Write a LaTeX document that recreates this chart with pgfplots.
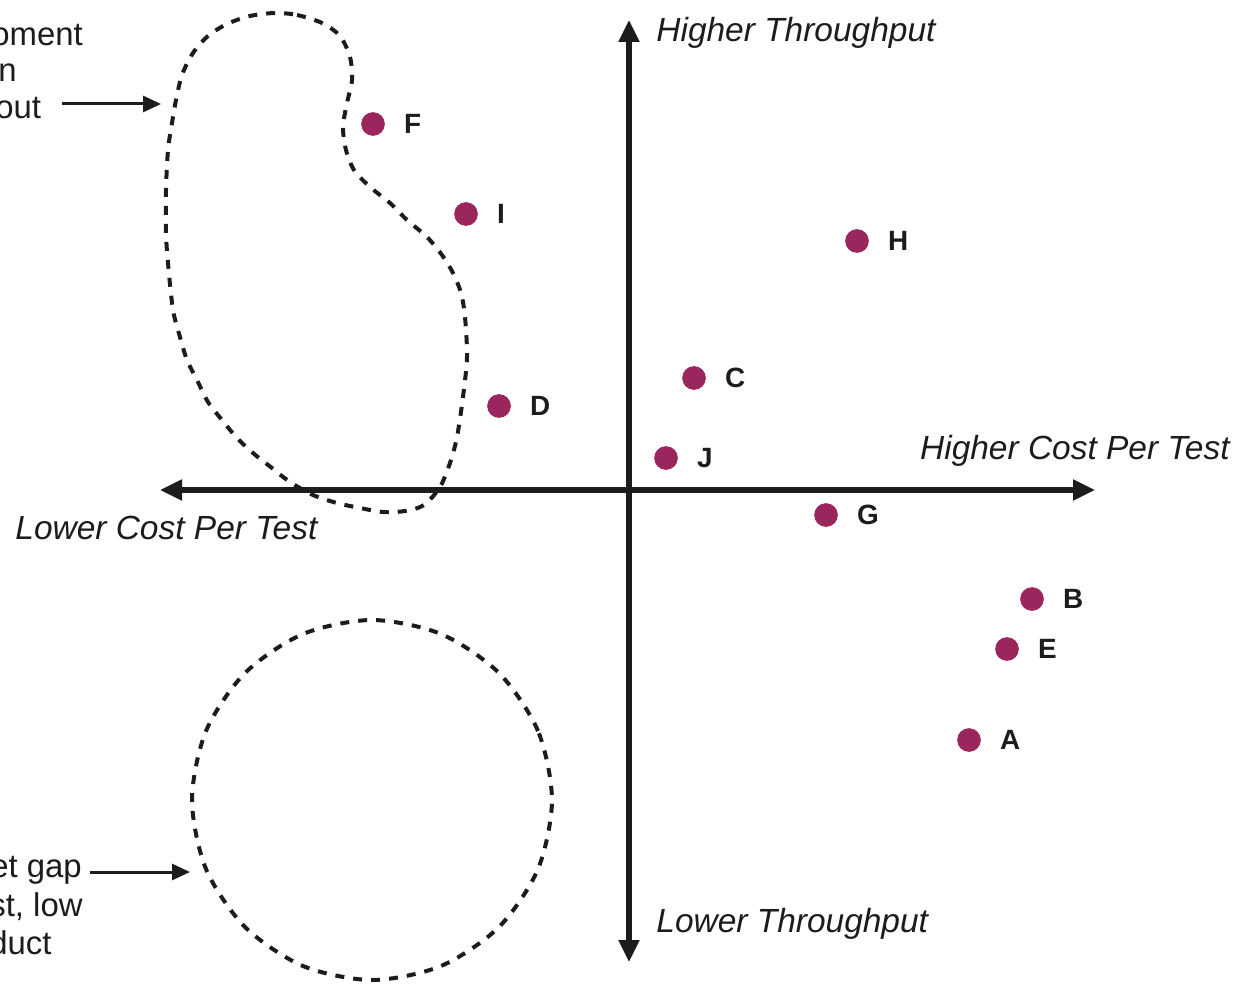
\documentclass[border=0pt]{standalone}
\usepackage{pgfplots}
\pgfplotsset{compat=1.18}
\usetikzlibrary{arrows.meta}
\usepackage{fontspec}
\setmainfont{Liberation Sans}
\definecolor{dot}{RGB}{155,38,94}
\definecolor{ink}{RGB}{28,28,28}
\begin{document}
\begin{tikzpicture}
\useasboundingbox (0,0) rectangle (622.5bp,493bp);
\clip (0,0) rectangle (622.5bp,493bp);
\begin{axis}[
  at={(0,0)}, anchor=south west,
  width=622.5bp, height=493bp, scale only axis,
  xmin=0, xmax=1245, ymin=0, ymax=986, y dir=reverse,
  hide axis, clip=false,
]
% dashed regions
\addplot[ink, line width=2bp, dash pattern=on 4.5bp off 4.5bp, smooth cycle, tension=0.5] coordinates {
(275,13) (297,15) (322,23) (340,36) (350,57) (352,80) (347,103) (343,127) (346,150) (354,170) (370,187) (390,203) (407,220) (427,237) (442,255) (453,273) (461,293) (465,317) (467,357) (463,397) (457,437) (450,463) (440,487) (424,505) (405,511) (383,512) (360,508) (337,503) (313,495) (290,482) (272,468) (253,453) (237,438) (222,420) (208,402) (197,380) (187,360) (180,337) (173,310) (168,263) (166,233) (166,190) (168,150) (172,123) (176,100) (182,75) (193,53) (208,36) (227,24) (250,16)
};
\addplot[ink, line width=2bp, dash pattern=on 4.5bp off 4.5bp, smooth cycle] coordinates {
(552,800) (538,731) (499,673) (441,634) (372,620) (303,634) (245,673) (206,731) (192,800) (206,869) (245,927) (303,966) (372,980) (441,966) (499,927) (538,869)
};
% axes arrows
\addplot[ink, line width=2.6bp, {Triangle[length=11bp,width=10bp]}-{Triangle[length=11bp,width=10bp]}] coordinates {(629,20) (629,962)};
\addplot[ink, line width=2.6bp, {Triangle[length=11bp,width=10bp]}-{Triangle[length=11bp,width=10bp]}] coordinates {(160,490) (1095,490)};
% callout arrows
\addplot[ink, line width=1.5bp, -{Triangle[length=9bp,width=8bp]}] coordinates {(62,104) (161,104)};
\addplot[ink, line width=1.5bp, -{Triangle[length=9bp,width=8bp]}] coordinates {(90,872) (190,872)};
% points
\addplot[only marks, mark=*, mark size=5.7bp, mark options={draw=dot, fill=dot},
  point meta=explicit symbolic, nodes near coords,
  nodes near coords style={anchor=west, xshift=12bp, yshift=0bp, text=ink, font=\fontsize{14}{14}\selectfont\bfseries}]
coordinates {
(373,124) [F]
(466,214) [I]
(857,241) [H]
(694,378) [C]
(499,406) [D]
(666,458) [J]
(826,515) [G]
(1032,599) [B]
(1007,649) [E]
(969,740) [A]
};
% axis texts
\node[anchor=west, inner sep=0, text=ink, font=\itshape\fontsize{16.8}{18}\selectfont] at (axis cs:656,33) {Higher Throughput};
\node[anchor=west, inner sep=0, text=ink, font=\itshape\fontsize{16.8}{18}\selectfont] at (axis cs:656,924) {Lower Throughput};
\node[anchor=east, inner sep=0, text=ink, font=\itshape\fontsize{16.8}{18}\selectfont] at (axis cs:1230,451) {Higher Cost Per Test};
\node[anchor=west, inner sep=0, text=ink, font=\itshape\fontsize{16.8}{18}\selectfont] at (axis cs:15,528) {Lower Cost Per Test};
% callout texts (cut at the left edge, as in the reference)
\node[anchor=west, inner sep=0, text=ink, font=\fontsize{16.5}{18}\selectfont] at (axis cs:-9,35) {oment};
\node[anchor=west, inner sep=0, text=ink, font=\fontsize{16.5}{18}\selectfont] at (axis cs:-2,73) {n};
\node[anchor=west, inner sep=0, text=ink, font=\fontsize{16.5}{18}\selectfont] at (axis cs:-5,108) {out};
\node[anchor=west, inner sep=0, text=ink, font=\fontsize{16.5}{18}\selectfont] at (axis cs:-10,870) {et gap};
\node[anchor=west, inner sep=0, text=ink, font=\fontsize{16.5}{18}\selectfont] at (axis cs:-11,907) {st, low};
\node[anchor=west, inner sep=0, text=ink, font=\fontsize{16.5}{18}\selectfont] at (axis cs:-11,943) {duct};
\end{axis}
\end{tikzpicture}
\end{document}
